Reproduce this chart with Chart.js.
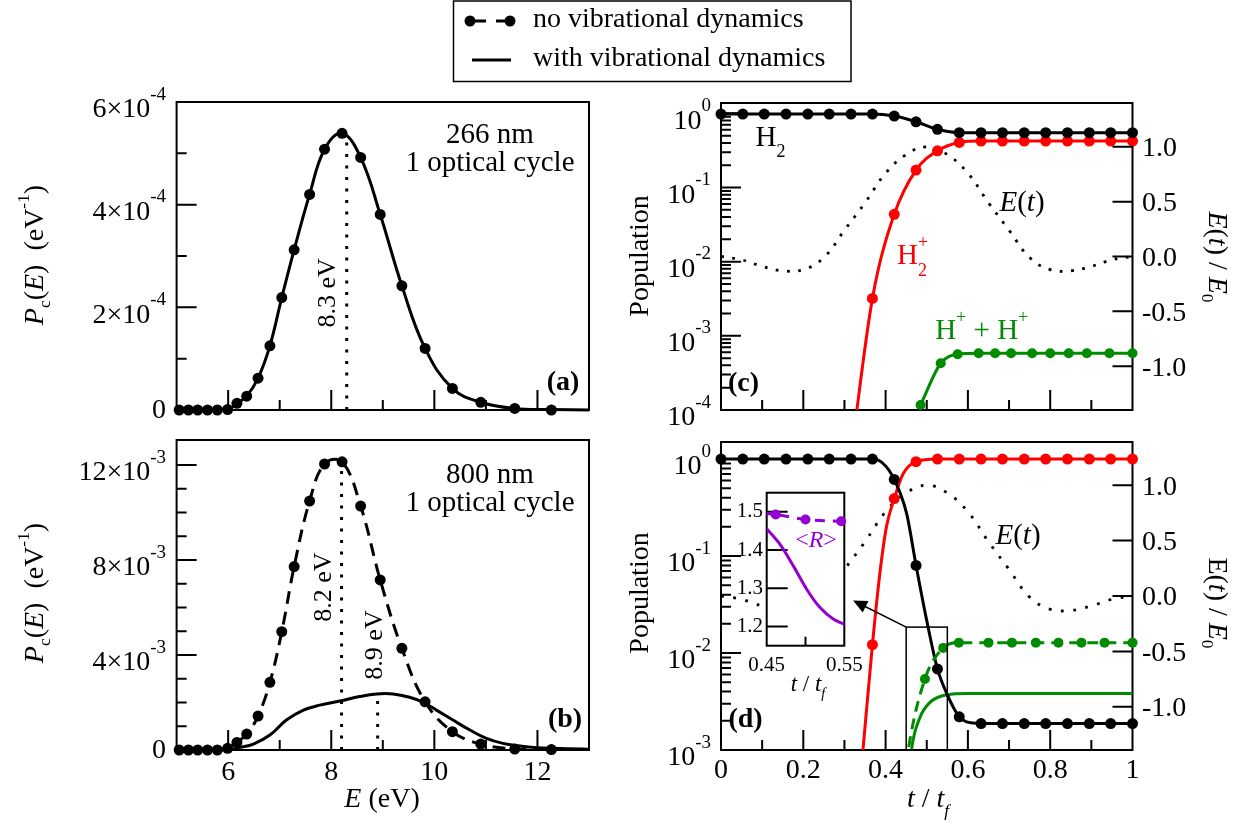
<!DOCTYPE html>
<html>
<head>
<meta charset="utf-8">
<title>Kinetic-energy spectra and populations</title>
<script src="https://cdn.jsdelivr.net/npm/chart.js"></script>
<style>
  html, body { margin: 0; padding: 0; background: #fff; }
  #wrap { position: relative; width: 1245px; height: 828px; overflow: hidden; background: #fff; }
  #wrap canvas { position: absolute; left: 0; top: 0; }
</style>
</head>
<body>
<div id="wrap">
  <canvas id="cA" width="1245" height="828"></canvas>
  <canvas id="cB" width="1245" height="828"></canvas>
  <canvas id="cC" width="1245" height="828"></canvas>
  <canvas id="cD" width="1245" height="828"></canvas>
  <canvas id="cI" width="1245" height="828"></canvas>
</div>
<script>
// ======================= DATA =======================
// Panels (a),(b): energy of the markers (eV)
const E_markers = [5.05,5.23,5.41,5.6,5.79,5.99,6.17,6.36,6.58,6.81,7.04,7.28,7.58,7.87,8.21,8.57,8.95,9.37,9.82,10.35,10.9,11.56,12.27];
// (a) 266 nm, units of 1e-4 eV^-1
const a_noVib = [0,0,0,0,0,0.01,0.13,0.27,0.62,1.25,2.19,3.12,4.2,5.08,5.39,4.92,3.81,2.42,1.2,0.42,0.15,0.03,0];
const a_vibE  = [5,5.99,6.17,6.36,6.58,6.81,7.04,7.28,7.58,7.87,8.21,8.57,8.95,9.37,9.82,10.35,10.9,11.56,12.27,13];
const a_vib   = [0,0.01,0.13,0.27,0.62,1.25,2.19,3.12,4.2,5.08,5.39,4.92,3.81,2.42,1.2,0.42,0.15,0.03,0.01,0];
const a_markE = [8.3];
const a_markTop = [5.36];
// (b) 800 nm, units of 1e-3 eV^-1
const b_noVib = [0,0,0,0,0,0.07,0.32,0.67,1.43,2.85,4.98,7.72,10.48,12.04,12.13,10.27,7.16,4.28,2.03,0.77,0.25,0.04,0.02];
const b_vibE  = [5,5.97,6.23,6.49,6.81,7.13,7.46,7.78,8.17,8.55,8.88,9.2,9.52,9.78,10.04,10.36,10.69,11.01,11.33,11.66,11.98,12.3,12.88,13];
const b_vib   = [0,0,0.11,0.25,0.63,1.26,1.68,1.89,2.06,2.25,2.36,2.36,2.22,2.01,1.68,1.26,0.84,0.49,0.28,0.17,0.1,0.07,0.04,0.03];
const b_markE = [8.2, 8.9];
const b_markTop = [12.0, 2.3];

// Panels (c),(d): time grid t/tf of the markers
const t_grid = [0,0.053,0.105,0.158,0.211,0.263,0.316,0.368,0.421,0.474,0.526,0.579,0.632,0.684,0.737,0.789,0.842,0.895,0.947,1];
// (c) 266 nm populations
const c_H2    = [0.98,0.98,0.98,0.98,0.98,0.98,0.98,0.98,0.92,0.77,0.61,0.55,0.55,0.55,0.55,0.55,0.55,0.55,0.55,0.55];
const c_H2p_t = [0.316,0.368,0.421,0.474,0.526,0.579,0.632,0.684,0.737,0.789,0.842,0.895,0.947,1];
const c_H2p   = [2.5e-5,3.2e-3,0.0435,0.172,0.313,0.406,0.423,0.423,0.423,0.423,0.423,0.423,0.423,0.423];
const c_HH_t  = [0.485,0.534,0.575,0.626,0.666,0.705,0.756,0.8,0.845,0.889,0.944,1];
const c_HH    = [1.17e-4,4.27e-4,5.65e-4,5.82e-4,5.82e-4,5.82e-4,5.82e-4,5.82e-4,5.82e-4,5.82e-4,5.82e-4,5.82e-4];
// field E(t)/E0
const Et_t = [0,0.05,0.1,0.15,0.2,0.25,0.3,0.35,0.4,0.45,0.5,0.55,0.6,0.65,0.7,0.75,0.8,0.85,0.9,0.95,1];
const Et   = [0,-0.03,-0.09,-0.13,-0.12,-0.01,0.24,0.49,0.76,0.93,1,0.93,0.76,0.49,0.24,-0.01,-0.12,-0.13,-0.09,-0.03,0];
// (d) 800 nm populations
const d_H2     = [1,1,1,1,1,1,1,1,0.617,0.08,0.00685,0.0022,0.001875,0.001875,0.001875,0.001875,0.001875,0.001875,0.001875,0.001875];
const d_H2v_t  = [0,0.316,0.368,0.394,0.421,0.451,0.474,0.5,0.526,0.549,0.579,0.613,0.65,1];
const d_H2v    = [1,1,1,0.9,0.617,0.275,0.08,0.0216,0.00685,0.0038,0.0022,0.0019,0.001875,0.001875];
const d_H2p_t  = [0.33,0.345,0.368,0.421,0.474,0.526,0.579,0.632,0.684,0.737,0.789,0.842,0.895,0.947,1];
const d_H2p    = [2e-4,1e-3,0.0122,0.392,0.94,1,1,1,1,1,1,1,1,1,1];
const d_H2pv_t = [0.33,0.345,0.368,0.386,0.402,0.421,0.443,0.474,0.526,1];
const d_H2pv   = [2e-4,1e-3,0.0122,0.066,0.2,0.392,0.71,0.94,1,1];
const d_HH_t   = [0.44,0.455,0.4956,0.54,0.578,0.65,0.707,0.765,0.82,0.876,0.932,1];
const d_HH     = [3e-4,1e-3,0.0054,0.0113,0.0128,0.0128,0.0128,0.0128,0.0128,0.0128,0.0128,0.0128];
const d_HHv_t  = [0.455,0.463,0.4835,0.508,0.5485,0.6,1];
const d_HHv    = [4e-4,1e-3,0.00216,0.0031,0.0037,0.00383,0.00383];
// zoom window and arrow (data coordinates of panel d)
const zoomT = [0.45, 0.55];
const zoomTop = 0.0185;
const arrowTip = [0.321, 0.0348];
// inset <R>
const in_t   = [0.42,0.4616,0.5,0.546];
const in_R   = [1.5,1.493,1.48,1.4755];
const in_tv  = [0.45,0.4672,0.4845,0.5017,0.519,0.5362,0.5504];
const in_Rv  = [1.4556,1.4146,1.358,1.297,1.249,1.219,1.206];

// ticks
const eMajor = [6,8,10,12], eMinor = [7,9,11], eLabels = ['6','8','10','12'];
const aMajor = [0,2,4,6], aMinor = [1,3,5], aLabels = [['0',''],['2×10','-4'],['4×10','-4'],['6×10','-4']];
const bMajor = [0,4,8,12], bMinor = [1,2,3,5,6,7,9,10,11], bLabels = [['0',''],['4×10','-3'],['8×10','-3'],['12×10','-3']];
const tMajor = [0.2,0.4,0.6,0.8], tMinor = [0.1,0.3,0.5,0.7,0.9];
const tLabVals = [0,0.2,0.4,0.6,0.8,1], tLabels = ['0','0.2','0.4','0.6','0.8','1'];
const cDecades = [-4,-3,-2,-1,0], dDecades = [-3,-2,-1,0];
const fieldTicks = [-1,-0.5,0,0.5,1], fieldLabels = ['-1.0','-0.5','0.0','0.5','1.0'];
const inYTicks = [1.2,1.3,1.4,1.5], inYLabels = ['1.2','1.3','1.4','1.5'];
const inXTicks = [0.5], inXLabVals = [0.45,0.55], inXLabels = ['0.45','0.55'];
const legendLabels = ['no vibrational dynamics', 'with vibrational dynamics'];

// ======================= HELPERS =======================
const FONT = '"Liberation Serif", "Times New Roman", Times, serif';
const W = 1245, H = 828;
const RED = '#ff0000', GREEN = '#008b00', PURPLE = '#9400d3';

function rich(ctx, x, y, segs, o) {
  o = o || {};
  const S = o.size || 28, small = o.small || 0.62;
  const supDy = o.supDy != null ? o.supDy : 0.45, subDy = o.subDy != null ? o.subDy : 0.45;
  ctx.save();
  const items = [];
  let cx = 0, maxX = 0, prevStart = 0;
  for (const s of segs) {
    const sz = (s.sup || s.sub) ? S * small : S;
    const font = (s.it ? 'italic ' : '') + ((s.b || o.bold) ? 'bold ' : '') + sz.toFixed(1) + 'px ' + FONT;
    ctx.font = font;
    const w = ctx.measureText(s.t).width;
    if (s.back) cx = prevStart;
    items.push({ t: s.t, font: font, x: cx, dy: s.sup ? -S * supDy : (s.sub ? S * subDy : 0) });
    prevStart = cx; cx += w; maxX = Math.max(maxX, cx);
  }
  const align = o.align || 'center';
  const x0 = align === 'center' ? -maxX / 2 : (align === 'right' ? -maxX : 0);
  ctx.translate(x, y);
  if (o.rot) ctx.rotate(o.rot);
  ctx.fillStyle = o.color || '#000';
  ctx.textBaseline = 'middle';
  ctx.textAlign = 'left';
  for (const it of items) { ctx.font = it.font; ctx.fillText(it.t, x0 + it.x, it.dy); }
  ctx.restore();
}

function frame(ctx, a) {
  ctx.save(); ctx.strokeStyle = '#000'; ctx.lineWidth = 2;
  ctx.strokeRect(a.left, a.top, a.right - a.left, a.bottom - a.top);
  ctx.restore();
}
function ticksX(ctx, a, sc, vals, len) {
  ctx.save(); ctx.strokeStyle = '#000'; ctx.lineWidth = 2; ctx.beginPath();
  for (const v of vals) { const x = sc.getPixelForValue(v); ctx.moveTo(x, a.bottom); ctx.lineTo(x, a.bottom - len); }
  ctx.stroke(); ctx.restore();
}
function ticksY(ctx, a, sc, vals, len, side) {
  ctx.save(); ctx.strokeStyle = '#000'; ctx.lineWidth = 2; ctx.beginPath();
  for (const v of vals) {
    const y = sc.getPixelForValue(v);
    if (side === 'right') { ctx.moveTo(a.right, y); ctx.lineTo(a.right - len, y); }
    else { ctx.moveTo(a.left, y); ctx.lineTo(a.left + len, y); }
  }
  ctx.stroke(); ctx.restore();
}
function expLabel(ctx, xr, y, mant, exp, size) {
  if (!exp) { rich(ctx, xr, y + 1, [{ t: mant }], { size: size, align: 'right' }); return; }
  rich(ctx, xr, y + 8, [{ t: mant }, { t: exp, sup: true }], { size: size, align: 'right', supDy: 0.55, small: 0.68 });
}

function ds(xs, ys, k, st) {
  const data = xs.map((x, i) => ({ x: x, y: ys[i] * k }));
  const o = Object.assign({
    data: data, borderColor: '#000', backgroundColor: '#000', borderWidth: 3,
    pointRadius: 0, pointHoverRadius: 0, pointBorderWidth: 0,
    tension: 0, fill: false, xAxisID: 'x', yAxisID: 'y'
  }, st);
  if (st && st.dotR) {
    const hide = st.hide || (() => false);
    o.pointRadius = data.map(p => hide(p) ? 0 : st.dotR);
    o.pointBackgroundColor = o.borderColor;
    delete o.dotR; delete o.hide;
  }
  return o;
}

function makeChart(id, area, scales, datasets, before, after) {
  return new Chart(document.getElementById(id), {
    type: 'line',
    data: { datasets: datasets },
    options: {
      responsive: false, animation: false, devicePixelRatio: 1, events: [],
      layout: { padding: { left: area.L, top: area.T, right: W - area.R, bottom: H - area.B } },
      scales: scales,
      plugins: { legend: { display: false }, tooltip: { enabled: false }, title: { display: false } }
    },
    plugins: [{ id: 'deco' + id, beforeDatasetsDraw: before, afterDatasetsDraw: after }]
  });
}

const dotStyle = { borderDash: [3, 8.5], borderWidth: 3, borderCapStyle: 'butt', tension: 0.4 };
const TICKFS = 28;

// ======================= PANEL (a) =======================
const areaA = { L: 176.6, T: 102, R: 589, B: 410 };
const clipAB = { left: 10, right: 10, top: 10, bottom: 10 };
makeChart('cA', areaA,
  { x: { type: 'linear', min: 5, max: 13, display: false }, y: { type: 'linear', min: 0, max: 6e-4, display: false } },
  [
    ds(E_markers, a_noVib, 1e-4, { dotR: 5.5, showLine: false, clip: clipAB }),
    ds(a_vibE, a_vib, 1e-4, { tension: 0.4, clip: clipAB }),
    ds([a_markE[0], a_markE[0]], [0, a_markTop[0]], 1e-4, Object.assign({ clip: clipAB }, dotStyle, { tension: 0 }))
  ],
  c => {
    const ctx = c.ctx, a = c.chartArea, xs = c.scales.x, ys = c.scales.y;
    frame(ctx, a);
    ticksX(ctx, a, xs, eMajor, 20); ticksX(ctx, a, xs, eMinor, 10);
    ticksY(ctx, a, ys, aMajor.map(v => v * 1e-4), 20, 'left');
    ticksY(ctx, a, ys, aMinor.map(v => v * 1e-4), 10, 'left');
  },
  c => {
    const ctx = c.ctx, a = c.chartArea, xs = c.scales.x, ys = c.scales.y;
    aMajor.forEach((v, i) => expLabel(ctx, 166, ys.getPixelForValue(v * 1e-4), aLabels[i][0], aLabels[i][1], TICKFS));
    rich(ctx, 36, 255, [{ t: 'P', it: true }, { t: 'c', sub: true }, { t: '(' }, { t: 'E', it: true }, { t: ')  (eV' }, { t: '-1', sup: true }, { t: ')' }], { size: 28, rot: -Math.PI / 2, subDy: 0.35, supDy: 0.42 });
    rich(ctx, 490, 135, [{ t: '266 nm' }], { size: 29 });
    rich(ctx, 490, 163, [{ t: '1 optical cycle' }], { size: 29 });
    rich(ctx, 563, 383, [{ t: '(a)' }], { size: 28, bold: true });
    rich(ctx, xs.getPixelForValue(7.94), ys.getPixelForValue(2.28e-4), [{ t: '8.3 eV' }], { size: 26, rot: -Math.PI / 2 });
    // legend
    ctx.save();
    ctx.strokeStyle = '#000'; ctx.lineWidth = 1.5;
    ctx.strokeRect(453.5, 1, 397.5, 80.5);
    ctx.lineWidth = 3; ctx.beginPath();
    ctx.moveTo(470, 21); ctx.lineTo(486, 21); ctx.moveTo(496, 21); ctx.lineTo(510, 21);
    ctx.moveTo(472, 60); ctx.lineTo(511, 60); ctx.stroke();
    ctx.fillStyle = '#000';
    [470, 510].forEach(x => { ctx.beginPath(); ctx.arc(x, 21, 5.5, 0, 2 * Math.PI); ctx.fill(); });
    ctx.restore();
    rich(ctx, 533, 20, [{ t: legendLabels[0] }], { size: 28, align: 'left' });
    rich(ctx, 533, 59, [{ t: legendLabels[1] }], { size: 28, align: 'left' });
  });

// ======================= PANEL (b) =======================
const areaB = { L: 176.6, T: 440, R: 589, B: 750 };
makeChart('cB', areaB,
  { x: { type: 'linear', min: 5, max: 13, display: false }, y: { type: 'linear', min: 0, max: 13.05e-3, display: false } },
  [
    ds(E_markers, b_noVib, 1e-3, { dotR: 5.5, borderDash: [13, 8], tension: 0.4, clip: clipAB }),
    ds(b_vibE, b_vib, 1e-3, { tension: 0.4, clip: clipAB }),
    ds([b_markE[0], b_markE[0]], [0, b_markTop[0]], 1e-3, Object.assign({ clip: clipAB }, dotStyle, { tension: 0 })),
    ds([b_markE[1], b_markE[1]], [0, b_markTop[1]], 1e-3, Object.assign({ clip: clipAB }, dotStyle, { tension: 0 }))
  ],
  c => {
    const ctx = c.ctx, a = c.chartArea, xs = c.scales.x, ys = c.scales.y;
    frame(ctx, a);
    ticksX(ctx, a, xs, eMajor, 20); ticksX(ctx, a, xs, eMinor, 10);
    ticksY(ctx, a, ys, bMajor.map(v => v * 1e-3), 20, 'left');
    ticksY(ctx, a, ys, bMinor.map(v => v * 1e-3), 10, 'left');
  },
  c => {
    const ctx = c.ctx, a = c.chartArea, xs = c.scales.x, ys = c.scales.y;
    bMajor.forEach((v, i) => expLabel(ctx, 166, ys.getPixelForValue(v * 1e-3), bLabels[i][0], bLabels[i][1], TICKFS));
    eMajor.forEach((v, i) => rich(ctx, xs.getPixelForValue(v), a.bottom + 23, [{ t: eLabels[i] }], { size: TICKFS }));
    rich(ctx, 382, 800, [{ t: 'E', it: true }, { t: ' (eV)' }], { size: 28 });
    rich(ctx, 36, 593, [{ t: 'P', it: true }, { t: 'c', sub: true }, { t: '(' }, { t: 'E', it: true }, { t: ')  (eV' }, { t: '-1', sup: true }, { t: ')' }], { size: 28, rot: -Math.PI / 2, subDy: 0.35, supDy: 0.42 });
    rich(ctx, 490, 475, [{ t: '800 nm' }], { size: 29 });
    rich(ctx, 490, 503, [{ t: '1 optical cycle' }], { size: 29 });
    rich(ctx, 565, 720, [{ t: '(b)' }], { size: 28, bold: true });
    rich(ctx, xs.getPixelForValue(7.86), ys.getPixelForValue(6.86e-3), [{ t: '8.2 eV' }], { size: 26, rot: -Math.PI / 2 });
    rich(ctx, xs.getPixelForValue(8.85), ys.getPixelForValue(4.42e-3), [{ t: '8.9 eV' }], { size: 26, rot: -Math.PI / 2 });
  });

// ======================= PANEL (c) =======================
const areaC = { L: 721, T: 103, R: 1132.5, B: 410 };
const clipCD = { left: 8, right: 8, top: 8, bottom: 0 };
const hideBelow = m => (p => p.y <= m * 1.001);
function logTicks(ctx, a, ys, decades, top) {
  const maj = decades.map(d => Math.pow(10, d));
  const mins = [];
  decades.forEach(d => { for (let k = 2; k <= 9; k++) { const v = k * Math.pow(10, d); if (v < top) mins.push(v); } });
  ticksY(ctx, a, ys, maj, 20, 'left');
  ticksY(ctx, a, ys, mins, 10, 'left');
}
function rightAxis(ctx, a, y2) {
  ticksY(ctx, a, y2, fieldTicks, 20, 'right');
  fieldTicks.forEach((v, i) => rich(ctx, 1142, y2.getPixelForValue(v) + 2, [{ t: fieldLabels[i] }], { size: TICKFS, align: 'left' }));
}
function timeTicks(ctx, a, xs) {
  ticksX(ctx, a, xs, tMajor, 20); ticksX(ctx, a, xs, tMinor, 10);
}
makeChart('cC', areaC,
  {
    x: { type: 'linear', min: 0, max: 1, display: false },
    y: { type: 'logarithmic', min: 1e-4, max: 1.38, display: false },
    y2: { type: 'linear', min: -1.4, max: 1.4, display: false }
  },
  [
    ds(t_grid, c_H2, 1, { dotR: 5.5, showLine: false, clip: clipCD }),
    ds(c_H2p_t, c_H2p, 1, { dotR: 5.5, borderColor: RED, showLine: false, clip: clipCD, hide: hideBelow(1e-4) }),
    ds(c_HH_t, c_HH, 1, { dotR: 5, borderColor: GREEN, showLine: false, clip: clipCD }),
    ds(t_grid, c_H2, 1, { cubicInterpolationMode: 'monotone', clip: clipCD }),
    ds(c_H2p_t, c_H2p, 1, { borderColor: RED, cubicInterpolationMode: 'monotone', clip: clipCD }),
    ds(c_HH_t, c_HH, 1, { borderColor: GREEN, cubicInterpolationMode: 'monotone', clip: clipCD }),
    ds(Et_t, Et, 1, Object.assign({ yAxisID: 'y2', clip: clipCD }, dotStyle, { borderWidth: 2.8, borderDash: [2.8, 8.5] }))
  ],
  c => {
    const ctx = c.ctx, a = c.chartArea;
    frame(ctx, a);
    timeTicks(ctx, a, c.scales.x);
    logTicks(ctx, a, c.scales.y, cDecades, 1.38);
  },
  c => {
    const ctx = c.ctx, a = c.chartArea, xs = c.scales.x, ys = c.scales.y;
    cDecades.forEach(d => expLabel(ctx, 711, ys.getPixelForValue(Math.pow(10, d)), '10', String(d), TICKFS));
    rightAxis(ctx, a, c.scales.y2);
    rich(ctx, 641, 256, [{ t: 'Population' }], { size: 28, rot: -Math.PI / 2 });
    rich(ctx, 1216, 257, [{ t: 'E', it: true }, { t: '(' }, { t: 't', it: true }, { t: ') / ' }, { t: 'E', it: true }, { t: '0', sub: true }], { size: 28, rot: Math.PI / 2, subDy: 0.35 });
    rich(ctx, 743.5, 384, [{ t: '(c)' }], { size: 28, bold: true });
    rich(ctx, 755.5, 138, [{ t: 'H' }, { t: '2', sub: true }], { size: 29, align: 'left', subDy: 0.5 });
    rich(ctx, 1022, 203, [{ t: 'E', it: true }, { t: '(' }, { t: 't', it: true }, { t: ')' }], { size: 29 });
    rich(ctx, 897, 256.7, [{ t: 'H' }, { t: '2', sub: true }, { t: '+', sup: true, back: true }], { size: 29, align: 'left', color: RED, subDy: 0.5, supDy: 0.47 });
    rich(ctx, 981.7, 331, [{ t: 'H' }, { t: '+', sup: true }, { t: ' + H' }, { t: '+', sup: true }], { size: 29, color: GREEN, supDy: 0.45 });
  });

// ======================= PANEL (d) =======================
const areaD = { L: 721, T: 442, R: 1132.5, B: 750 };
makeChart('cD', areaD,
  {
    x: { type: 'linear', min: 0, max: 1, display: false },
    y: { type: 'logarithmic', min: 1e-3, max: 1.5, display: false },
    y2: { type: 'linear', min: -1.39, max: 1.39, display: false }
  },
  [
    ds(t_grid, d_H2, 1, { dotR: 5.5, showLine: false, clip: clipCD }),
    ds(d_H2p_t, d_H2p, 1, { dotR: 5.5, borderColor: RED, showLine: false, clip: clipCD, hide: hideBelow(1e-3) }),
    ds(d_HH_t, d_HH, 1, { dotR: 5, borderColor: GREEN, borderDash: [11, 7], cubicInterpolationMode: 'monotone', clip: clipCD, hide: hideBelow(1e-3) }),
    ds(d_H2v_t, d_H2v, 1, { cubicInterpolationMode: 'monotone', clip: clipCD }),
    ds(d_H2pv_t, d_H2pv, 1, { borderColor: RED, cubicInterpolationMode: 'monotone', clip: clipCD }),
    ds(d_HHv_t, d_HHv, 1, { borderColor: GREEN, cubicInterpolationMode: 'monotone', clip: clipCD }),
    ds(Et_t, Et, 1, Object.assign({ yAxisID: 'y2', clip: clipCD }, dotStyle, { borderWidth: 2.8, borderDash: [2.8, 9.5] }))
  ],
  c => {
    const ctx = c.ctx, a = c.chartArea;
    frame(ctx, a);
    timeTicks(ctx, a, c.scales.x);
    logTicks(ctx, a, c.scales.y, dDecades, 1.5);
  },
  c => {
    const ctx = c.ctx, a = c.chartArea, xs = c.scales.x, ys = c.scales.y;
    dDecades.forEach(d => expLabel(ctx, 711, ys.getPixelForValue(Math.pow(10, d)), '10', String(d), TICKFS));
    rightAxis(ctx, a, c.scales.y2);
    tLabVals.forEach((v, i) => rich(ctx, xs.getPixelForValue(v), a.bottom + 21, [{ t: tLabels[i] }], { size: TICKFS }));
    rich(ctx, 928, 800, [{ t: 't', it: true }, { t: ' / ' }, { t: 't', it: true }, { t: 'f', it: true, sub: true }], { size: 28, subDy: 0.4 });
    rich(ctx, 641, 593, [{ t: 'Population' }], { size: 28, rot: -Math.PI / 2 });
    rich(ctx, 1216, 603, [{ t: 'E' }, { t: '(' }, { t: 't', it: true }, { t: ') / ' }, { t: 'E', it: true }, { t: '0', sub: true }], { size: 28, rot: Math.PI / 2, subDy: 0.35 });
    rich(ctx, 745.5, 720, [{ t: '(d)' }], { size: 28, bold: true });
    rich(ctx, 1018, 536, [{ t: 'E', it: true }, { t: '(' }, { t: 't', it: true }, { t: ')' }], { size: 29 });
    // zoom window + arrow
    const x0 = xs.getPixelForValue(zoomT[0]), x1 = xs.getPixelForValue(zoomT[1]), yT = ys.getPixelForValue(zoomTop);
    ctx.save();
    ctx.strokeStyle = '#000'; ctx.fillStyle = '#000'; ctx.lineWidth = 1.5;
    ctx.strokeRect(x0, yT, x1 - x0, a.bottom - yT);
    const tx = xs.getPixelForValue(arrowTip[0]), ty = ys.getPixelForValue(arrowTip[1]);
    const dx = tx - x0, dy = ty - yT, L = Math.hypot(dx, dy), ux = dx / L, uy = dy / L;
    const hl = 14, hw = 6.5;
    ctx.beginPath(); ctx.moveTo(x0, yT); ctx.lineTo(tx - ux * hl * 0.8, ty - uy * hl * 0.8); ctx.stroke();
    ctx.beginPath();
    ctx.moveTo(tx, ty);
    ctx.lineTo(tx - ux * hl - uy * hw, ty - uy * hl + ux * hw);
    ctx.lineTo(tx - ux * hl + uy * hw, ty - uy * hl - ux * hw);
    ctx.closePath(); ctx.fill();
    ctx.restore();
  });

// ======================= INSET =======================
const areaI = { L: 766.7, T: 492.7, R: 844.3, B: 645.7 };
makeChart('cI', areaI,
  {
    x: { type: 'linear', min: 0.45, max: 0.55, display: false },
    y: { type: 'linear', min: 1.15, max: 1.55, display: false }
  },
  [
    ds(in_t, in_R, 1, { dotR: 5, borderColor: PURPLE, borderDash: [10, 8], cubicInterpolationMode: 'monotone', clip: { left: 0, right: 8, top: 0, bottom: 0 }, hide: p => p.x < 0.45 }),
    ds(in_tv, in_Rv, 1, { borderColor: PURPLE, cubicInterpolationMode: 'monotone', clip: 0 })
  ],
  c => {
    const ctx = c.ctx, a = c.chartArea;
    ctx.save(); ctx.fillStyle = '#fff'; ctx.fillRect(a.left, a.top, a.right - a.left, a.bottom - a.top); ctx.restore();
    frame(ctx, a);
    ticksY(ctx, a, c.scales.y, inYTicks, 21, 'left');
    ticksX(ctx, a, c.scales.x, inXTicks, 9);
  },
  c => {
    const ctx = c.ctx, a = c.chartArea, xs = c.scales.x, ys = c.scales.y;
    inYTicks.forEach((v, i) => rich(ctx, 763, ys.getPixelForValue(v), [{ t: inYLabels[i] }], { size: 21, align: 'right' }));
    inXLabVals.forEach((v, i) => rich(ctx, xs.getPixelForValue(v), 665, [{ t: inXLabels[i] }], { size: 21 }));
    rich(ctx, 808, 685, [{ t: 't', it: true }, { t: ' / ' }, { t: 't', it: true }, { t: 'f', it: true, sub: true }], { size: 23, subDy: 0.4 });
    rich(ctx, 816, 541, [{ t: '<' }, { t: 'R', it: true }, { t: '>' }], { size: 24, color: PURPLE });
  });
</script>
</body>
</html>
